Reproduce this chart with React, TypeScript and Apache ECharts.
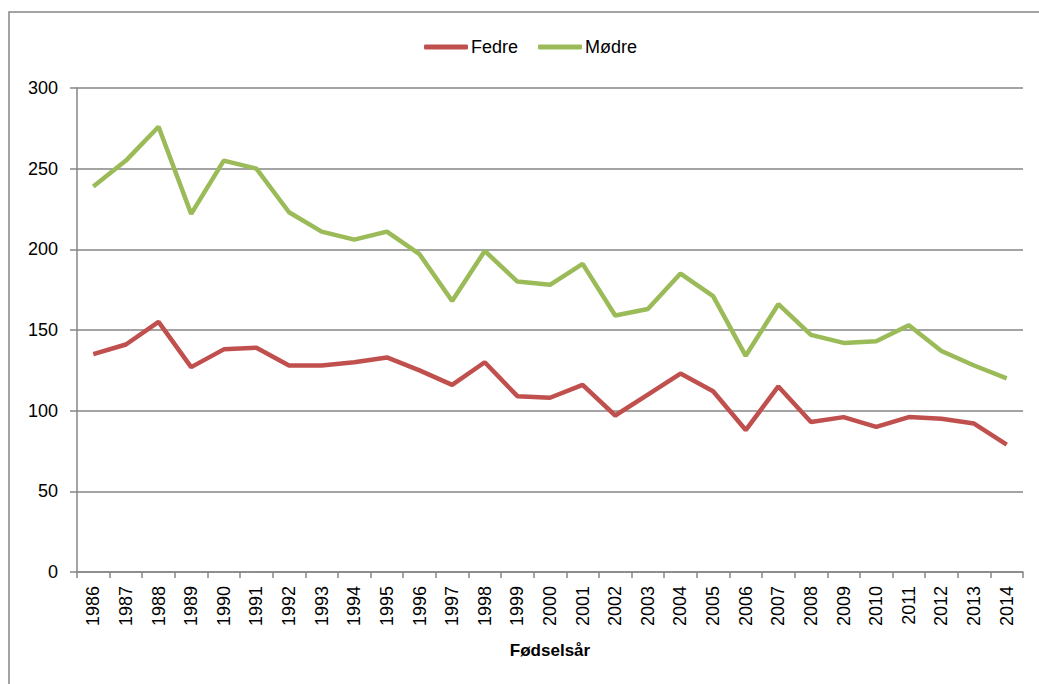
import React, { useEffect, useRef } from "react";
import * as echarts from "echarts";

const years = [
  "1986", "1987", "1988", "1989", "1990", "1991", "1992", "1993", "1994", "1995",
  "1996", "1997", "1998", "1999", "2000", "2001", "2002", "2003", "2004", "2005",
  "2006", "2007", "2008", "2009", "2010", "2011", "2012", "2013", "2014",
];
const fedre = [
  135, 141, 155, 127, 138, 139, 128, 128, 130, 133,
  125, 116, 130, 109, 108, 116, 97, 110, 123, 112,
  88, 115, 93, 96, 90, 96, 95, 92, 79,
];
const modre = [
  239, 255, 276, 222, 255, 250, 223, 211, 206, 211,
  197, 168, 199, 180, 178, 191, 159, 163, 185, 171,
  134, 166, 147, 142, 143, 153, 137, 128, 120,
];
const seriesNames = ["Fedre", "Mødre"];
const xAxisName = "Fødselsår";

const FONT = "'Liberation Sans', Arial, sans-serif";
const GRAY = "#868686";

export default function App() {
  const ref = useRef<HTMLDivElement>(null);
  useEffect(() => {
    if (!ref.current) return;
    const chart = echarts.init(ref.current, undefined, { renderer: "svg" });
    chart.setOption({
      animation: false,
      backgroundColor: "#ffffff",
      textStyle: { fontFamily: FONT },
      graphic: [
        {
          type: "rect",
          shape: { x: 9, y: 12, width: 1200, height: 900 },
          style: { fill: "none", stroke: GRAY, lineWidth: 1.5 },
          silent: true,
        },
      ],
      legend: {
        left: 419,
        top: 33,
        icon: "roundRect",
        itemWidth: 44,
        itemHeight: 5,
        itemGap: 20,
        textStyle: { fontSize: 18, color: "#000000", fontFamily: FONT, padding: [0, 0, 0, -2] },
        data: seriesNames,
      },
      grid: { left: 77, right: 16, top: 88, bottom: 112, containLabel: false },
      xAxis: {
        type: "category",
        data: years,
        boundaryGap: true,
        name: xAxisName,
        nameLocation: "middle",
        nameGap: 70,
        nameTextStyle: { fontSize: 17, fontWeight: "bold", color: "#000000", fontFamily: FONT },
        axisLine: { lineStyle: { color: GRAY, width: 1.5 } },
        axisTick: { show: true, length: 6, alignWithLabel: false, lineStyle: { color: GRAY, width: 1.5 } },
        axisLabel: { rotate: 90, fontSize: 18, color: "#000000", margin: 14, interval: 0, fontFamily: FONT },
        splitLine: { show: false },
      },
      yAxis: {
        type: "value",
        min: 0,
        max: 300,
        interval: 50,
        axisLine: { show: true, lineStyle: { color: GRAY, width: 1.5 } },
        axisTick: { show: true, length: 7, lineStyle: { color: GRAY, width: 1.5 } },
        axisLabel: { fontSize: 18, color: "#000000", margin: 19, fontFamily: FONT },
        splitLine: { show: true, lineStyle: { color: GRAY, width: 1.5 } },
      },
      series: [
        {
          name: seriesNames[0],
          type: "line",
          data: fedre,
          symbol: "none",
          lineStyle: { color: "#C0504D", width: 4.5 },
          itemStyle: { color: "#C0504D" },
        },
        {
          name: seriesNames[1],
          type: "line",
          data: modre,
          symbol: "none",
          lineStyle: { color: "#9BBB59", width: 4.5 },
          itemStyle: { color: "#9BBB59" },
        },
      ],
    });
    return () => chart.dispose();
  }, []);
  return (
    <div
      ref={ref}
      style={{ position: "fixed", left: 0, top: 0, width: 1039, height: 684, background: "#fff" }}
    />
  );
}
